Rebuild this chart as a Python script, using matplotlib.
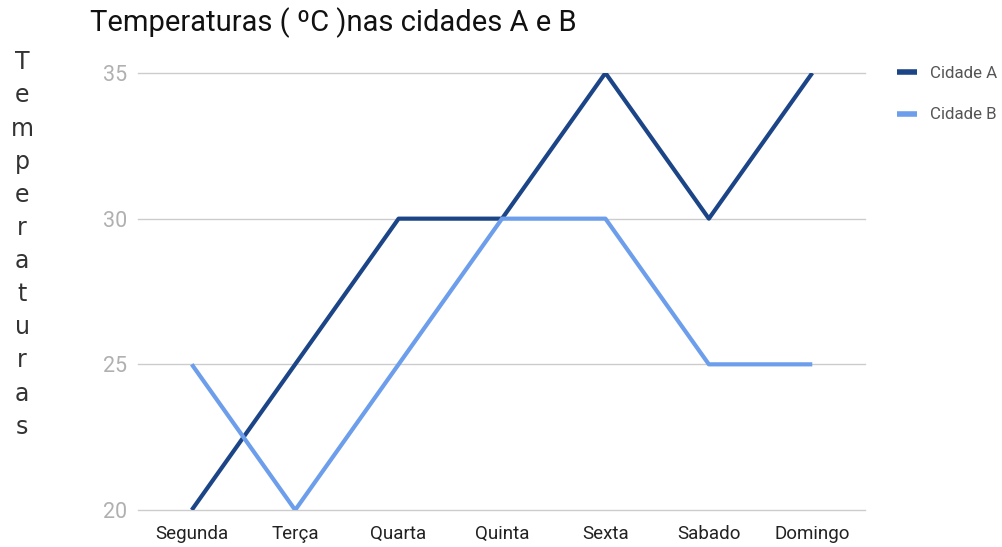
import matplotlib
matplotlib.use("Agg")
from matplotlib import pyplot as plt

dias = ["Segunda", "Terça", "Quarta", "Quinta", "Sexta", "Sabado", "Domingo"]
cidade_a = [20, 25, 30, 30, 35, 30, 35]
cidade_b = [25, 20, 25, 30, 30, 25, 25]
y_ticks = [20, 25, 30, 35]

COR_A = "#1c4587"
COR_B = "#6d9eeb"

plt.rcParams['font.family'] = ['Roboto', 'DejaVu Sans']

fig = plt.figure(figsize=(10.02, 5.47), dpi=100)
ax = fig.add_axes([0.1377, 0.0676, 0.7256, 0.799])

x = list(range(len(dias)))
ax.plot(x, cidade_a, color=COR_A, lw=3, label="Cidade A", solid_capstyle="butt")
ax.plot(x, cidade_b, color=COR_B, lw=3, label="Cidade B", solid_capstyle="butt")

ax.set_xlim(-0.52, 6.51)
ax.set_ylim(20, 35)
ax.set_xticks(x)
ax.set_xticklabels(dias, fontsize=13.5, color="#222222")
ax.set_yticks(y_ticks)
ax.set_yticklabels([str(v) for v in y_ticks], fontsize=15.5, color="#b0b0b0")
ax.tick_params(axis="both", length=0)
ax.tick_params(axis="x", pad=11)
ax.tick_params(axis="y", pad=8)
ax.grid(axis="y", color="#cccccc", lw=1)
for gl in ax.get_ygridlines():
    gl.set_clip_on(False)
ax.set_axisbelow(True)
for s in ax.spines.values():
    s.set_visible(False)

fig.text(0.09, 0.958, "Temperaturas ( ºC )nas cidades A e B", fontsize=21,
         color="#111111", va="center", ha="left")

# rotulo vertical, letra por letra
fig.text(0.022, 0.908, "\n".join("Temperaturas"), fontsize=17,
         family="DejaVu Sans", color="#333333", va="top", ha="center",
         linespacing=1.48)

leg = fig.legend(loc="upper left", bbox_to_anchor=(0.895, 0.879), frameon=False,
                 fontsize=12.2, labelcolor="#555555", handlelength=1.2,
                 handletextpad=0.75, labelspacing=1.55, borderpad=0,
                 borderaxespad=0)
for h in leg.legend_handles:
    h.set_linewidth(4)

fig.savefig("out.png", dpi=100)
